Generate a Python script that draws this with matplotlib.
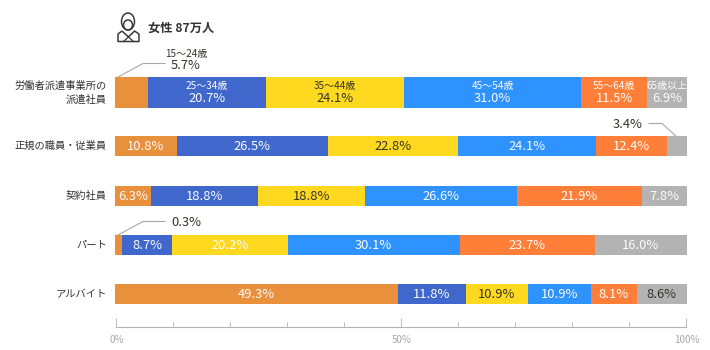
import matplotlib
matplotlib.use("Agg")
import matplotlib.pyplot as plt
from matplotlib.patches import Ellipse, PathPatch
from matplotlib.path import Path
import numpy as np

JP = ["Noto Sans CJK JP", "DejaVu Sans"]
plt.rcParams["font.family"] = JP

categories = ["労働者派遣事業所の\n派遣社員", "正規の職員・従業員", "契約社員", "パート", "アルバイト"]
ages = ["15〜24歳", "25〜34歳", "35〜44歳", "45〜54歳", "55〜64歳", "65歳以上"]
v_15_24 = [5.7, 10.8, 6.3, 1.3, 49.3]
v_25_34 = [20.7, 26.5, 18.8, 8.7, 11.8]
v_35_44 = [24.1, 22.8, 18.8, 20.2, 10.9]
v_45_54 = [31.0, 24.1, 26.6, 30.1, 10.9]
v_55_64 = [11.5, 12.4, 21.9, 23.7, 8.1]
v_65_up = [6.9, 3.4, 7.8, 16.0, 8.6]
# printed labels (the パート first segment is printed 0.3% but drawn wider)
l_15_24 = ["5.7%", "10.8%", "6.3%", "0.3%", "49.3%"]
series = [v_15_24, v_25_34, v_35_44, v_45_54, v_55_64, v_65_up]
colors = ["#E8903C", "#3F67CC", "#FFD91F", "#2E92FF", "#FF7F38", "#B3B3B3"]
WHITE, DARK = "#FBFBFB", "#33332E"
label_colors = [
    [WHITE] * 5,
    [WHITE] * 5,
    [DARK, DARK, DARK, WHITE, DARK],
    [WHITE] * 5,
    [WHITE] * 5,
    [WHITE, WHITE, WHITE, WHITE, DARK],
]
ticks_major = [0, 50, 100]
ticks_minor = [10, 20, 30, 40, 60, 70, 80, 90]

W, H = 710, 350
fig = plt.figure(figsize=(W / 100, H / 100), dpi=100)

def axpx(x0, y0, x1, y1):
    return fig.add_axes([x0 / W, 1 - y1 / H, (x1 - x0) / W, (y1 - y0) / H])

ax = axpx(115, 60, 686.5, 320)
centers = [92.5, 146, 196, 245, 294]
heights = [30.5, 20, 20, 20, 20]
ax.set_xlim(0, 100)
ax.set_ylim(320, 60)
ax.axis("off")
PCT = 9.3
# every row is a 100% stack of its printed values
data = np.array(series, dtype=float)
shares = data / data.sum(axis=0) * 100
for s, col in enumerate(colors):
    vals = shares[s]
    left = shares[:s].sum(axis=0)
    ax.barh(centers, vals, left=left, height=heights, color=col, linewidth=0)
    for i, v in enumerate(data[s]):
        text = l_15_24[i] if s == 0 else f"{v:.1f}%"
        cx = left[i] + vals[i] / 2
        if i == 0:
            if s == 0:
                continue
            ax.text(cx, 86.3, ages[s], ha="center", va="center", fontsize=7.2,
                    color=label_colors[s][i] if s != 2 else DARK)
            ax.text(cx, 98, text, ha="center", va="center", fontsize=PCT, color=label_colors[s][i])
        elif (i == 1 and s == 5) or (i == 3 and s == 0):
            continue
        else:
            ax.text(cx, centers[i] + 0.6, text, ha="center", va="center", fontsize=PCT, color=label_colors[s][i])

# category labels
for name, c in zip(categories, centers):
    ax.text(-1.4, c, name, ha="right", va="center", fontsize=7.4, color="#333333", linespacing=1.45)

# axis
axb = axpx(116.3, 300, 686.3, 327.3)
axb.set_xlim(0, 100)
axb.patch.set_alpha(0)
axb.set_yticks([])
for sp in ("top", "left", "right"):
    axb.spines[sp].set_visible(False)
axb.spines["bottom"].set_color("#B5B5B5")
axb.spines["bottom"].set_linewidth(0.8)
axb.set_xticks(ticks_major, [f"{t}%" for t in ticks_major])
axb.set_xticks(ticks_minor, minor=True)
axb.tick_params(axis="x", which="major", direction="in", length=6.2, width=0.7, color="#BBBBBB",
                labelsize=7, labelcolor="#A8A8A8", pad=5.5)
axb.tick_params(axis="x", which="minor", direction="in", length=3.8, width=0.7, color="#BBBBBB")

# overlay in pixel coordinates: leaders, callouts, title, icon
ov = fig.add_axes([0, 0, 1, 1])
ov.set_xlim(0, W)
ov.set_ylim(H, 0)
ov.axis("off")
ov.patch.set_alpha(0)
lead = dict(color="#A8A8A8", lw=0.8)
ov.plot([118, 143, 165], [77, 63.5, 63.5], **lead)
ov.plot([118, 143, 165], [235, 221.5, 221.5], **lead)
ov.plot([649, 662, 677], [123.5, 123.5, 137], **lead)
ov.text(186, 53.5, ages[0], ha="center", va="center", fontsize=7.2, color="#33332E")
ov.text(186, 65.5, l_15_24[0], ha="center", va="center", fontsize=PCT, color="#33332E")
ov.text(186, 222, l_15_24[3], ha="center", va="center", fontsize=PCT, color="#33332E")
ov.text(628, 124, f"{v_65_up[1]:.1f}%", ha="center", va="center", fontsize=PCT, color="#33332E")
ov.text(148, 28.5, "女性 87万人", ha="left", va="center", fontsize=8.8, fontweight="bold", color="#333333")

ic = dict(fill=False, edgecolor="#3A3A3A", lw=1.1)
ov.add_patch(Ellipse((128, 21.5), 13, 17, **ic))
ov.add_patch(Ellipse((128, 25), 9, 10, **ic))
body = Path([(122, 31), (118, 34), (118, 41.5), (139, 41.5), (139, 34), (134.5, 31),
             (128.5, 37), (122, 31)],
            [Path.MOVETO] + [Path.LINETO] * 7)
ov.add_patch(PathPatch(body, joinstyle="round", **ic))
ov.plot([123.5, 128.5, 133.5], [41.5, 37, 41.5], color="#3A3A3A", lw=0.9)

fig.savefig("out.png", dpi=100)
